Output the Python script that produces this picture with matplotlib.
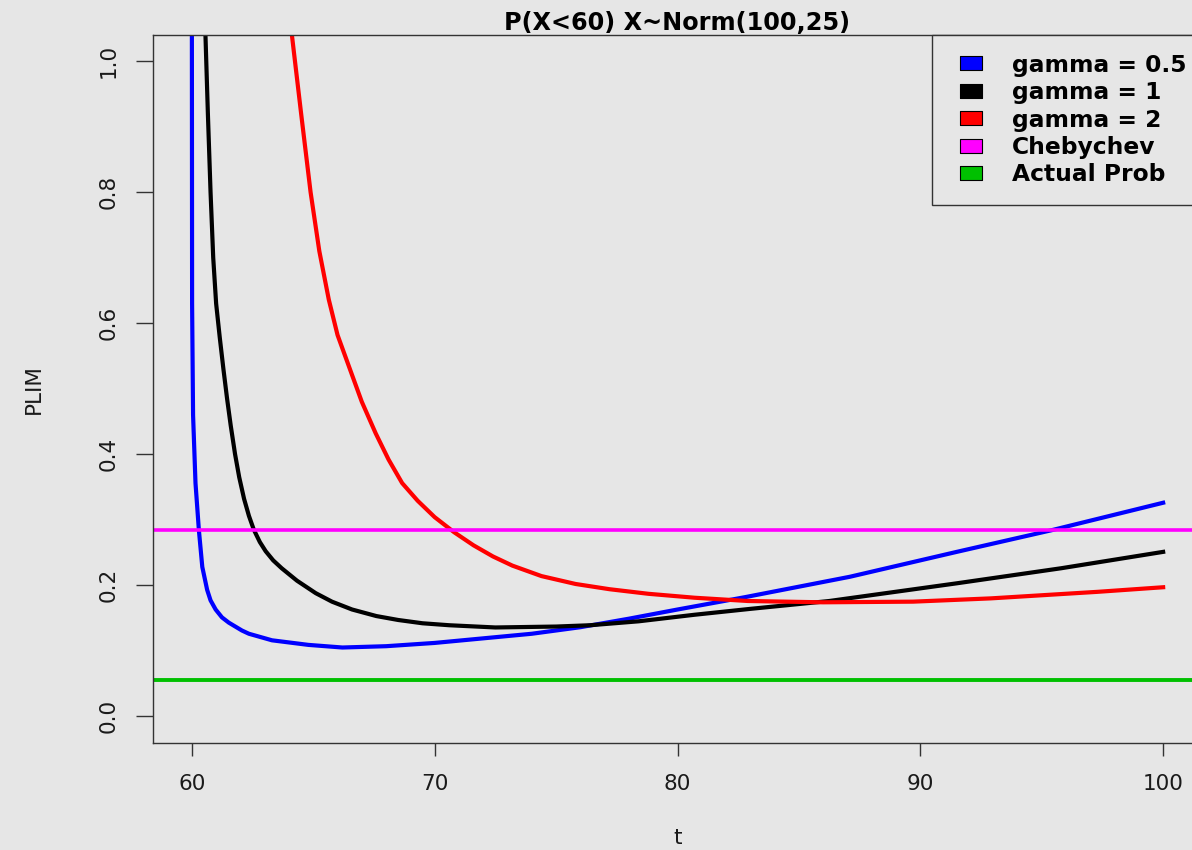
import matplotlib
matplotlib.use("Agg")
import matplotlib.pyplot as plt
from matplotlib.lines import Line2D

# values
t_g05 = [60.00, 60.01, 60.05, 60.15, 60.29, 60.43, 60.63, 60.77, 60.98, 61.24, 61.52,
         62.06, 62.35, 63.3, 64.8, 66.2, 68.0, 70.0, 72.0, 74.0, 76.0, 78.0, 80.0,
         82.8, 87.1, 91.5, 95.4, 100.0]
p_g05 = [1.10, 0.63, 0.46, 0.356, 0.284, 0.228, 0.193, 0.177, 0.163, 0.151, 0.143,
         0.131, 0.126, 0.116, 0.109, 0.105, 0.107, 0.112, 0.119, 0.126, 0.136, 0.149, 0.163,
         0.182, 0.213, 0.251, 0.284, 0.326]

t_g1 = [60.50, 60.56, 60.66, 60.77, 60.88, 61.0, 61.15, 61.3, 61.45, 61.6, 61.78,
        61.95, 62.15, 62.35, 62.55, 62.8, 63.04, 63.35, 63.7, 64.33, 65.1, 65.77, 66.6,
        67.6, 68.5, 69.5, 70.6, 72.5, 75.0, 76.4, 78.4, 80.7, 83.0, 86.25, 91.5, 95.8, 100.0]
p_g1 = [1.10, 1.04, 0.92, 0.80, 0.70, 0.63, 0.578, 0.530, 0.485, 0.444, 0.400,
        0.365, 0.332, 0.306, 0.285, 0.266, 0.252, 0.238, 0.226, 0.207, 0.188, 0.175, 0.163,
        0.153, 0.147, 0.142, 0.139, 0.1356, 0.137, 0.139, 0.145, 0.155, 0.164, 0.176, 0.203,
        0.226, 0.251]

t_g2 = [64.0, 64.12, 64.5, 64.89, 65.25, 65.64, 66.0, 66.47, 67.0, 67.57, 68.1, 68.66,
        69.3, 70.0, 70.8, 71.6, 72.4, 73.2, 74.4, 75.8, 77.2, 78.8, 80.7, 82.9, 86.0,
        89.7, 92.9, 97.3, 100.0]
p_g2 = [1.10, 1.04, 0.92, 0.80, 0.71, 0.636, 0.582, 0.534, 0.480, 0.432, 0.392, 0.356,
        0.329, 0.304, 0.281, 0.261, 0.244, 0.230, 0.214, 0.202, 0.194, 0.187, 0.181, 0.176,
        0.174, 0.175, 0.180, 0.190, 0.197]

chebychev = 0.284
actual_prob = 0.055

labels = ["gamma = 0.5", "gamma = 1", "gamma = 2", "Chebychev", "Actual Prob"]
colors = ["#0000ff", "#000000", "#ff0000", "#ff00ff", "#00c000"]

bg = "#e6e6e6"
plt.rcParams["font.family"] = ["DejaVu Sans"]

fig = plt.figure(figsize=(11.92, 8.5), dpi=100, facecolor=bg)
ax = fig.add_axes([153 / 1192, 107.5 / 850, 1049 / 1192, 707.5 / 850], facecolor=bg)

lw = 3.0
ax.plot(t_g05, p_g05, color=colors[0], lw=lw, solid_joinstyle="round")
ax.plot(t_g1, p_g1, color=colors[1], lw=lw, solid_joinstyle="round")
ax.plot(t_g2, p_g2, color=colors[2], lw=lw, solid_joinstyle="round")
ax.axhline(chebychev, color=colors[3], lw=2.6)
ax.axhline(actual_prob, color=colors[4], lw=2.8)

ax.set_xlim(58.4, 101.6)
ax.set_ylim(-0.04, 1.04)
ax.set_xticks([60, 70, 80, 90, 100])
ax.set_yticks([0.0, 0.2, 0.4, 0.6, 0.8, 1.0])
ax.set_yticklabels(["0.0", "0.2", "0.4", "0.6", "0.8", "1.0"])

for s in ax.spines.values():
    s.set_color("#333333")
    s.set_linewidth(1.0)

ax.tick_params(axis="x", length=9.5, width=1, color="#333333", pad=13,
               labelsize=15.5, labelcolor="#1a1a1a")
ax.tick_params(axis="y", length=12, width=1, color="#333333", pad=13,
               labelsize=15.5, labelcolor="#1a1a1a", labelrotation=90)
for lab in ax.get_yticklabels():
    lab.set_va("center")

ax.set_title("P(X<60) X~Norm(100,25)", fontsize=17.3, fontweight="bold", pad=2)
ax.set_xlabel("t", fontsize=15.5, color="#1a1a1a")
ax.xaxis.set_label_coords(0.5, -0.121)
ax.set_ylabel("PLIM", fontsize=15.5, color="#1a1a1a")
ax.yaxis.set_label_coords(-0.104, 0.5)

box = [(-1, -0.6), (1, -0.6), (1, 0.6), (-1, 0.6), (-1, -0.6)]
handles = [Line2D([], [], linestyle="none", marker=box, markersize=16,
                  markerfacecolor=c, markeredgecolor="#000000", markeredgewidth=0.8)
           for c in colors]
leg = ax.legend(handles, labels, loc="upper left", bbox_to_anchor=(0.7426, 1.0),
                borderaxespad=0, borderpad=0.8, handlelength=1.75, handletextpad=0.87,
                labelspacing=0.19, numpoints=1, fancybox=False, framealpha=1,
                facecolor=bg, edgecolor="#333333",
                prop={"size": 16.8, "weight": "bold"})
leg.get_frame().set_linewidth(1.0)

fig.savefig("out.png", dpi=100, facecolor=bg)
